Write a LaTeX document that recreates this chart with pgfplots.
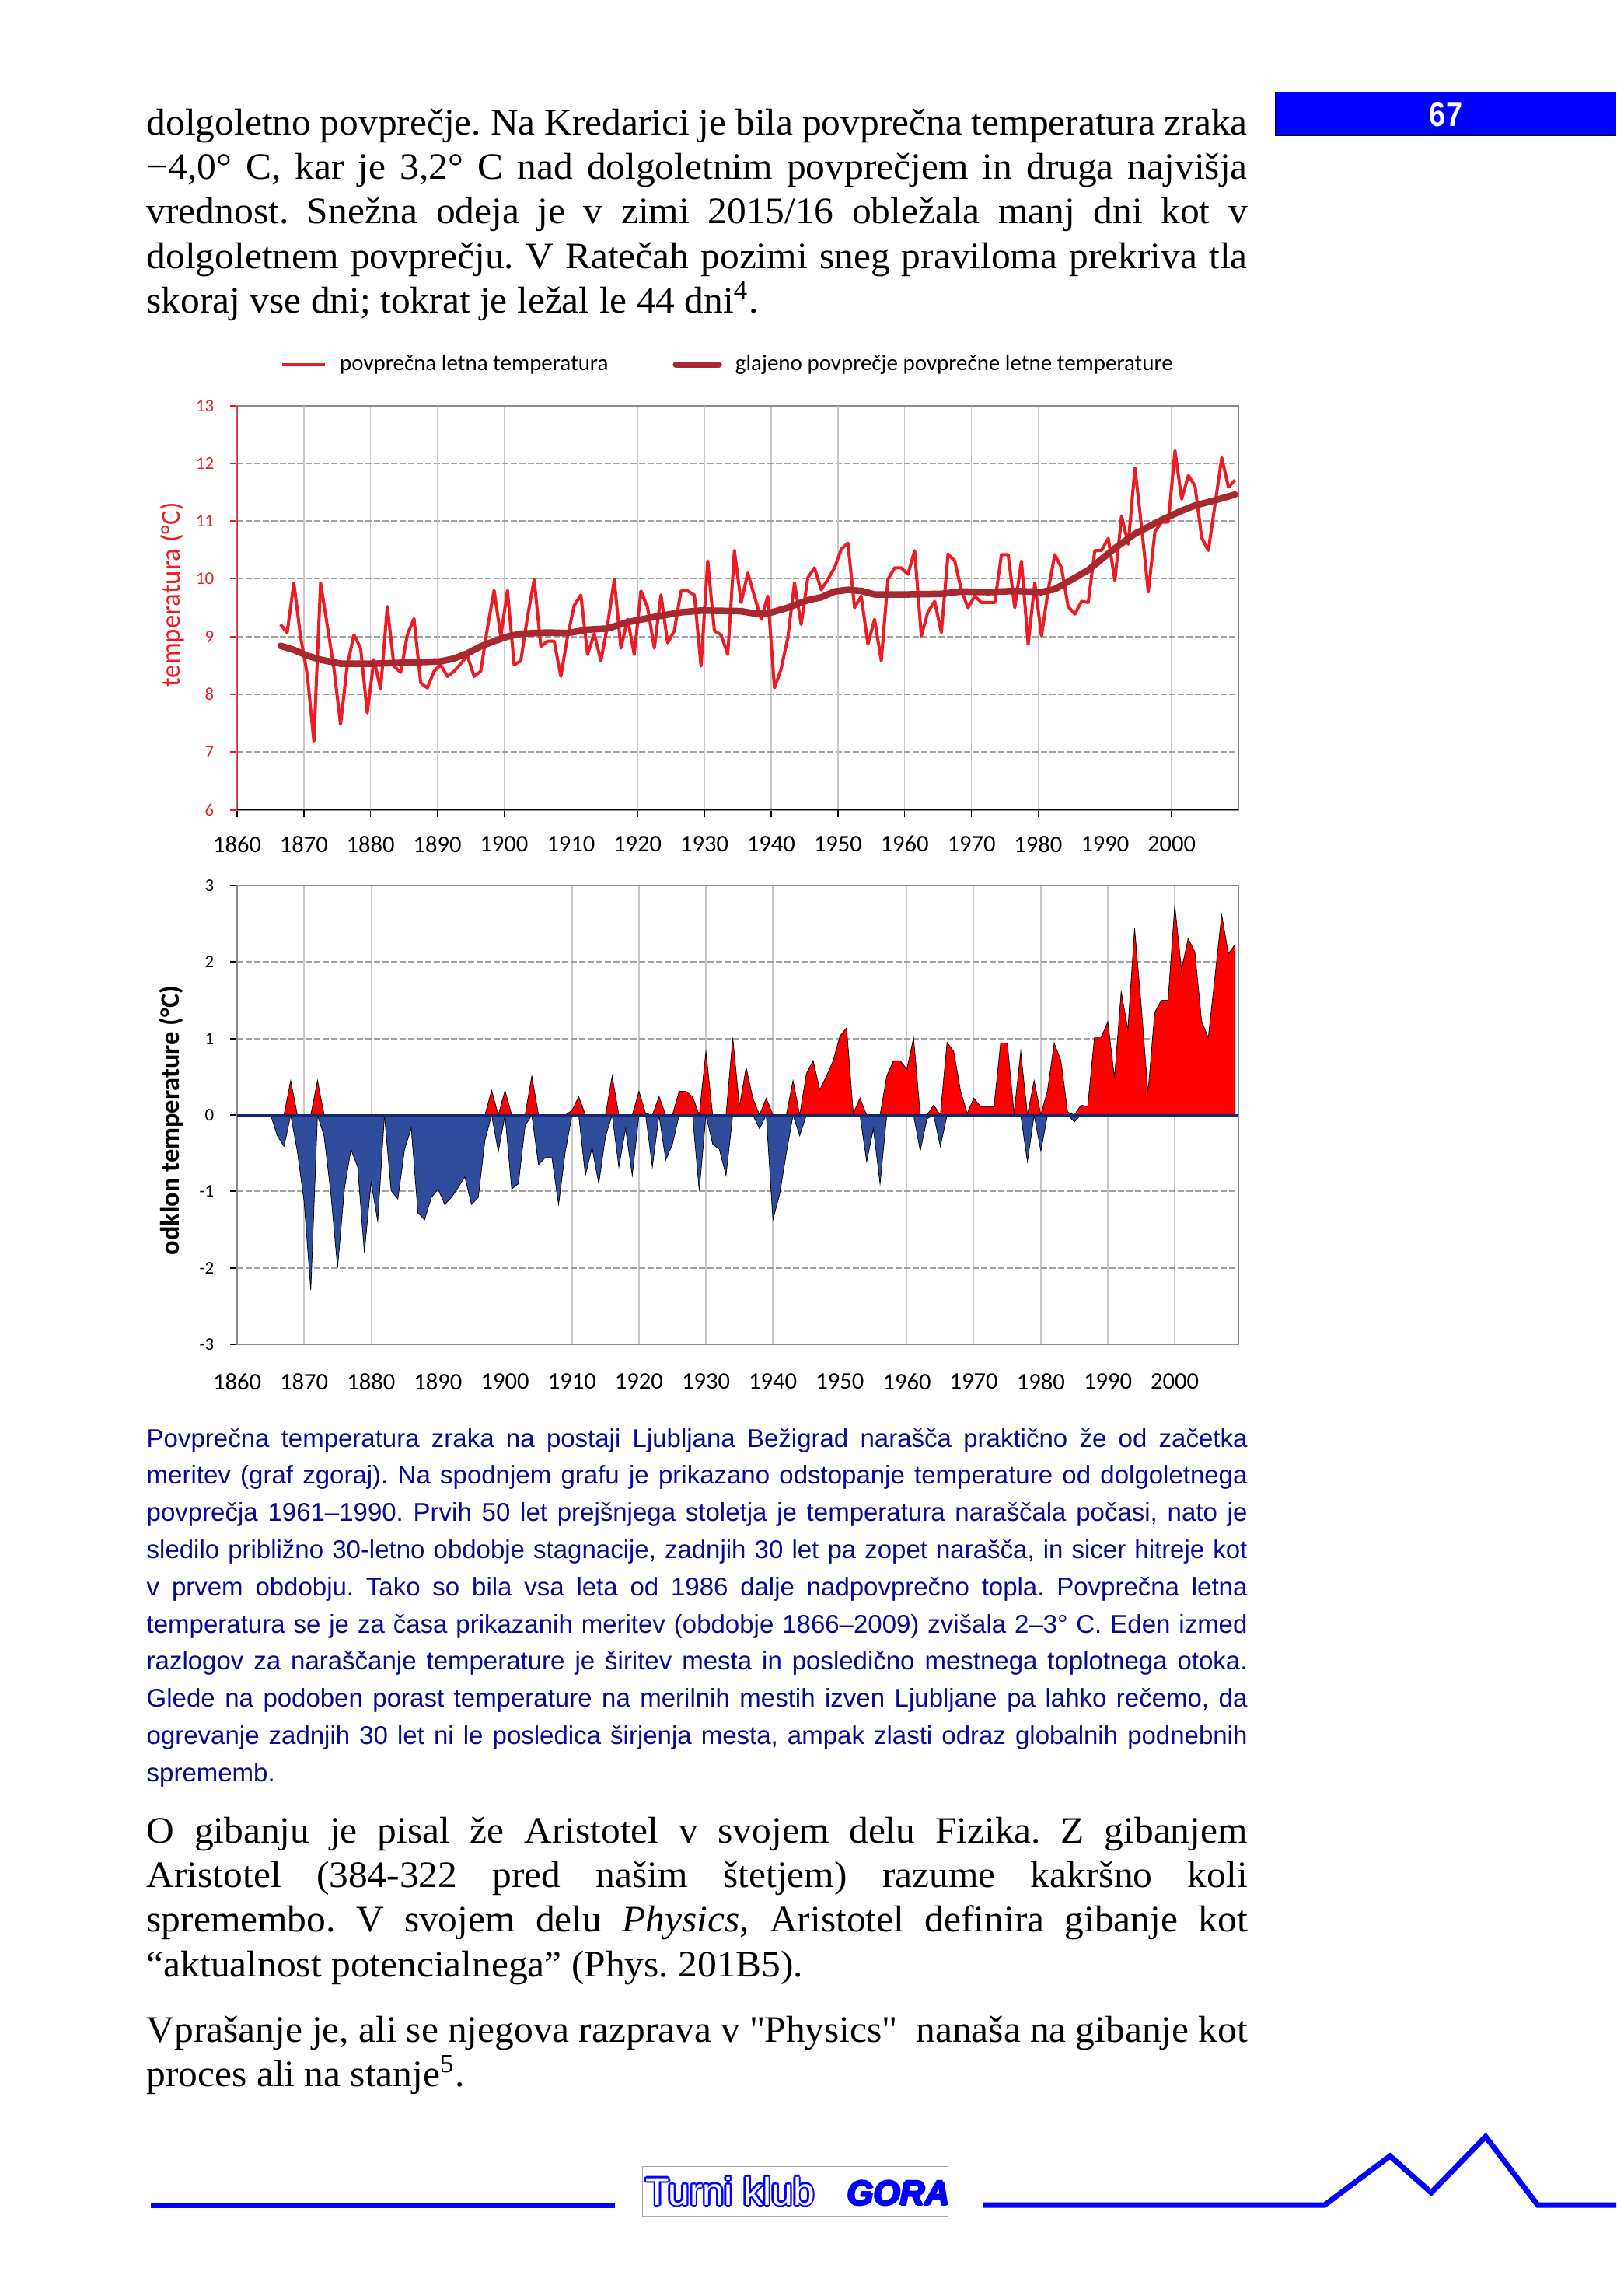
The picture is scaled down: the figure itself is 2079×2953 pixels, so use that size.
\documentclass[border=0pt]{standalone}
\usepackage{fontspec}
\usepackage{pgfplots}
\pgfplotsset{compat=1.18}
\usepackage{pgfplotstable}
\setmainfont[FakeStretch=1.03]{Liberation Serif}
\newfontfamily\chartfont{Carlito}
\newfontfamily\capfont{Liberation Sans}
\newfontfamily\narrowfont[FakeStretch=0.85]{Liberation Sans}

\definecolor{tred}{RGB}{237,28,36}
\definecolor{sred}{RGB}{168,40,48}
\definecolor{bred}{RGB}{255,0,0}
\definecolor{bblue}{RGB}{48,76,156}
\definecolor{navyz}{RGB}{20,40,110}
\definecolor{capblue}{RGB}{10,10,140}
\definecolor{hdrblue}{RGB}{0,0,255}
\definecolor{gridv}{RGB}{200,200,200}
\definecolor{gridvd}{RGB}{140,140,140}
\definecolor{gridh}{RGB}{160,160,160}
\definecolor{frame}{RGB}{140,140,140}

\newcommand\bodyfs{\fontsize{13.66pt}{16.3pt}\selectfont}
\newcommand\capfs{\capfont\fontsize{9.39pt}{11pt}\selectfont}
\newcommand\bline[2]{\node[anchor=base west,inner sep=0pt,font=\bodyfs] at (188,#1) {\makebox[141.6mm][s]{#2}};}
\newcommand\blast[2]{\node[anchor=base west,inner sep=0pt,font=\bodyfs] at (188,#1) {#2};}
\newcommand\capline[2]{\node[anchor=base west,inner sep=0pt,font=\capfs,text=capblue] at (188,#1) {\makebox[141.6mm][s]{#2}};}
\newcommand\caplast[2]{\node[anchor=base west,inner sep=0pt,font=\capfs,text=capblue] at (188,#1) {#2};}

\pgfplotstableread{
year T
1866 9.21
1867 9.07
1868 9.93
1869 9.00
1870 8.35
1871 7.19
1872 9.93
1873 9.20
1874 8.45
1875 7.48
1876 8.50
1877 9.03
1878 8.80
1879 7.68
1880 8.60
1881 8.09
1882 9.52
1883 8.49
1884 8.38
1885 9.03
1886 9.31
1887 8.20
1888 8.11
1889 8.40
1890 8.51
1891 8.31
1892 8.40
1893 8.53
1894 8.67
1895 8.31
1896 8.40
1897 9.15
1898 9.80
1899 9.00
1900 9.80
1901 8.51
1902 8.58
1903 9.34
1904 9.99
1905 8.83
1906 8.92
1907 8.92
1908 8.31
1909 9.00
1910 9.54
1911 9.72
1912 8.69
1913 9.05
1914 8.58
1915 9.20
1916 9.99
1917 8.80
1918 9.30
1919 8.69
1920 9.79
1921 9.50
1922 8.80
1923 9.72
1924 8.89
1925 9.10
1926 9.79
1927 9.79
1928 9.72
1929 8.49
1930 10.31
1931 9.10
1932 9.03
1933 8.69
1934 10.49
1935 9.59
1936 10.10
1937 9.70
1938 9.30
1939 9.70
1940 8.11
1941 8.44
1942 8.98
1943 9.93
1944 9.21
1945 10.02
1946 10.19
1947 9.81
1948 9.99
1949 10.19
1950 10.51
1951 10.62
1952 9.50
1953 9.70
1954 8.87
1955 9.30
1956 8.58
1957 9.99
1958 10.19
1959 10.19
1960 10.08
1961 10.49
1962 9.01
1963 9.43
1964 9.61
1965 9.07
1966 10.43
1967 10.31
1968 9.80
1969 9.50
1970 9.70
1971 9.59
1972 9.59
1973 9.59
1974 10.42
1975 10.42
1976 9.50
1977 10.31
1978 8.87
1979 9.93
1980 9.01
1981 9.80
1982 10.42
1983 10.19
1984 9.52
1985 9.39
1986 9.61
1987 9.59
1988 10.49
1989 10.49
1990 10.70
1991 9.97
1992 11.09
1993 10.60
1994 11.92
1995 10.90
1996 9.77
1997 10.82
1998 10.98
1999 10.98
2000 12.22
2001 11.38
2002 11.79
2003 11.61
2004 10.71
2005 10.49
2006 11.29
2007 12.10
2008 11.59
2009 11.71
}\tdata

\pgfplotstableread{
year S
1866 8.84
1868 8.77
1870 8.67
1872 8.60
1875 8.53
1880 8.53
1885 8.55
1890 8.57
1892 8.62
1894 8.71
1896 8.83
1898 8.92
1900 9.00
1902 9.05
1906 9.07
1909 9.06
1912 9.12
1915 9.14
1918 9.25
1922 9.34
1926 9.42
1929 9.45
1935 9.44
1937 9.40
1939 9.40
1942 9.50
1945 9.63
1947 9.68
1949 9.78
1951 9.81
1953 9.79
1955 9.73
1960 9.73
1965 9.74
1968 9.78
1972 9.77
1976 9.79
1980 9.77
1982 9.82
1984 9.95
1987 10.15
1991 10.53
1994 10.78
1998 11.02
2001 11.18
2003 11.27
2006 11.36
2009 11.46
}\sdata

\pgfplotstableread{
year pos neg
1860 0 0
1861 0 0
1862 0 0
1863 0 0
1864 0 0
1865 0 0
1866 0 -0.27
1867 0 -0.41
1868 0.45 0
1869 0 -0.48
1870 0 -1.13
1871 0 -2.29
1872 0.45 0
1873 0 -0.28
1874 0 -1.03
1875 0 -2.00
1876 0 -0.98
1877 0 -0.45
1878 0 -0.68
1879 0 -1.80
1880 0 -0.88
1881 0 -1.39
1882 0 0
1883 0 -0.99
1884 0 -1.10
1885 0 -0.45
1886 0 -0.17
1887 0 -1.28
1888 0 -1.37
1889 0 -1.08
1890 0 -0.97
1891 0 -1.17
1892 0 -1.08
1893 0 -0.95
1894 0 -0.81
1895 0 -1.17
1896 0 -1.08
1897 0 -0.33
1898 0.32 0
1899 0 -0.48
1900 0.32 0
1901 0 -0.97
1902 0 -0.90
1903 0 -0.14
1904 0.51 0
1905 0 -0.65
1906 0 -0.56
1907 0 -0.56
1908 0 -1.17
1909 0 -0.48
1910 0.06 0
1911 0.24 0
1912 0 -0.79
1913 0 -0.43
1914 0 -0.90
1915 0 -0.28
1916 0.51 0
1917 0 -0.68
1918 0 -0.18
1919 0 -0.79
1920 0.31 0
1921 0.02 0
1922 0 -0.68
1923 0.24 0
1924 0 -0.59
1925 0 -0.38
1926 0.31 0
1927 0.31 0
1928 0.24 0
1929 0 -0.99
1930 0.83 0
1931 0 -0.38
1932 0 -0.45
1933 0 -0.79
1934 1.01 0
1935 0.11 0
1936 0.62 0
1937 0.22 0
1938 0 -0.18
1939 0.22 0
1940 0 -1.37
1941 0 -1.04
1942 0 -0.50
1943 0.45 0
1944 0 -0.27
1945 0.54 0
1946 0.71 0
1947 0.33 0
1948 0.51 0
1949 0.71 0
1950 1.03 0
1951 1.14 0
1952 0.02 0
1953 0.22 0
1954 0 -0.61
1955 0 -0.18
1956 0 -0.90
1957 0.51 0
1958 0.71 0
1959 0.71 0
1960 0.60 0
1961 1.01 0
1962 0 -0.47
1963 0 -0.05
1964 0.13 0
1965 0 -0.41
1966 0.95 0
1967 0.83 0
1968 0.32 0
1969 0.02 0
1970 0.22 0
1971 0.11 0
1972 0.11 0
1973 0.11 0
1974 0.94 0
1975 0.94 0
1976 0.02 0
1977 0.83 0
1978 0 -0.61
1979 0.45 0
1980 0 -0.47
1981 0.32 0
1982 0.94 0
1983 0.71 0
1984 0.04 0
1985 0 -0.09
1986 0.13 0
1987 0.11 0
1988 1.01 0
1989 1.01 0
1990 1.22 0
1991 0.49 0
1992 1.61 0
1993 1.12 0
1994 2.44 0
1995 1.42 0
1996 0.29 0
1997 1.34 0
1998 1.50 0
1999 1.50 0
2000 2.74 0
2001 1.90 0
2002 2.31 0
2003 2.13 0
2004 1.23 0
2005 1.01 0
2006 1.81 0
2007 2.62 0
2008 2.11 0
2009 2.23 0
}\adata

\begin{document}
\frenchspacing
\begin{tikzpicture}[x=0.1mm,y=-0.1mm]
\path[use as bounding box, fill=white] (0,0) rectangle (2079,2953);

% header
\fill[hdrblue] (1641,118) rectangle (2079,174);
\draw[black, line width=0.12mm] (1641,118) -- (1641,174) -- (2079,174);
\node[text=white, inner sep=0pt, font=\narrowfont\bfseries\fontsize{12.7pt}{14pt}\selectfont] at (1860,147) {67};

% top text
\bline{173}{dolgoletno povprečje. Na Kredarici je bila povprečna temperatura zraka}
\bline{230.4}{−4,0° C, kar je 3,2° C nad dolgoletnim povprečjem in druga najvišja}
\bline{287.8}{vrednost. Snežna odeja je v zimi 2015/16 obležala manj dni kot v}
\bline{345.2}{dolgoletnem povprečju. V Ratečah pozimi sneg praviloma prekriva tla}
\blast{402.6}{skoraj vse dni; tokrat je ležal le 44 dni\textsuperscript{4}.}

% top chart
\begin{axis}[
  at={(30.5mm,-104.15mm)}, anchor=south west,
  scale only axis, width=128.8mm, height=51.98mm,
  xmin=1859.5, xmax=2009.5, ymin=6, ymax=13,
  xtick={1859.5,1869.5,1879.5,1889.5,1899.5,1909.5,1919.5,1929.5,1939.5,1949.5,1959.5,1969.5,1979.5,1989.5,1999.5},
  xticklabels={1860,1870,1880,1890,1900,1910,1920,1930,1940,1950,1960,1970,1980,1990,2000},
  ytick={6,7,8,9,10,11,12,13},
  /pgf/number format/assume math mode=true,
  grid=major,
  x grid style={gridv, line width=0.15mm},
  y grid style={gridh, line width=0.2mm, dash pattern=on 0.8mm off 0.3mm},
  extra x ticks={1869.5,1889.5,1909.5,1929.5,1949.5,1969.5,1989.5},
  extra x tick labels={},
  extra x tick style={grid=major, major grid style={gridvd, line width=0.12mm}},
  axis line style={frame, line width=0.2mm},
  tick align=outside, major tick length=0.9mm,
  xtick pos=left, ytick pos=left,
  xtick style={black, line width=0.15mm},
  ytick style={tred, line width=0.2mm},
  xticklabel style={font=\chartfont\fontsize{8.7pt}{10pt}\selectfont, inner sep=0pt, yshift=-2.4mm},
  yticklabel style={font=\chartfont\fontsize{6.5pt}{8pt}\selectfont, text=tred, inner sep=0pt, xshift=-2.0mm},
  ylabel={temperatura (°C)},
  ylabel style={at={(axis description cs:-0.0644,0.532)}, anchor=center, font=\chartfont\fontsize{9.9pt}{11pt}\selectfont, text=tred},
  legend style={draw=none, fill=none, at={(axis description cs:0.043,1.101)}, anchor=west,
    legend columns=2, font=\chartfont\fontsize{8.25pt}{9pt}\selectfont,
    /tikz/every even column/.append style={column sep=7.6mm}, inner sep=0pt},
  legend cell align=left,
  legend image code/.code={\draw[#1] (0mm,0mm) -- (5.5mm,0mm); \path (6.5mm,0mm);},
]
\addplot[tred, line width=0.4mm, line join=round] table[x=year,y=T]{\tdata};
\addlegendentry{povprečna letna temperatura}
\addplot[sred, line width=0.85mm, line join=round, line cap=round] table[x=year,y=S]{\sdata};
\addlegendentry{glajeno povprečje povprečne letne temperature}
\draw[tred, line width=0.2mm] (rel axis cs:0,0) -- (rel axis cs:0,1);
\draw[black, line width=0.2mm] (rel axis cs:0,0) -- (rel axis cs:1,0);
\end{axis}

% bottom chart
\begin{axis}[
  at={(30.5mm,-172.9mm)}, anchor=south west,
  scale only axis, width=128.8mm, height=59mm,
  xmin=1860, xmax=2009.5, ymin=-3, ymax=3,
  xtick={1860,1870,1880,1890,1900,1910,1920,1930,1940,1950,1960,1970,1980,1990,2000},
  xticklabels={1860,1870,1880,1890,1900,1910,1920,1930,1940,1950,1960,1970,1980,1990,2000},
  ytick={-3,-2,-1,0,1,2,3},
  yticklabels={-3,-2,-1,0,1,2,3},
  grid=major,
  x grid style={gridv, line width=0.15mm},
  y grid style={gridh, line width=0.2mm, dash pattern=on 0.8mm off 0.3mm},
  axis line style={frame, line width=0.2mm},
  tick align=outside, major tick length=0.9mm,
  xtick pos=left, ytick pos=left,
  xtick style={draw=none},
  ytick style={black, line width=0.2mm},
  xticklabel style={font=\chartfont\fontsize{8.7pt}{10pt}\selectfont, inner sep=0pt, yshift=-2.8mm},
  yticklabel style={font=\chartfont\fontsize{6.5pt}{8pt}\selectfont, inner sep=0pt, xshift=-2.0mm},
  ylabel={odklon temperature (°C)},
  ylabel style={at={(axis description cs:-0.066,0.488)}, anchor=center, font=\chartfont\bfseries\fontsize{9.8pt}{11pt}\selectfont},
]
\addplot[fill=bblue, draw=black, line width=0.08mm] table[x=year,y=neg]{\adata} \closedcycle;
\addplot[fill=bred, draw=black, line width=0.08mm] table[x=year,y=pos]{\adata} \closedcycle;
\addplot[navyz, line width=0.3mm] coordinates {(1860,0) (2009.5,0)};
\end{axis}

% caption
\capline{1861}{Povprečna temperatura zraka na postaji Ljubljana Bežigrad narašča praktično že od začetka}
\capline{1908.8}{meritev (graf zgoraj). Na spodnjem grafu je prikazano odstopanje temperature od dolgoletnega}
\capline{1956.6}{povprečja 1961–1990. Prvih 50 let prejšnjega stoletja je temperatura naraščala počasi, nato je}
\capline{2004.4}{sledilo približno 30-letno obdobje stagnacije, zadnjih 30 let pa zopet narašča, in sicer hitreje kot}
\capline{2052.2}{v prvem obdobju. Tako so bila vsa leta od 1986 dalje nadpovprečno topla. Povprečna letna}
\capline{2100}{temperatura se je za časa prikazanih meritev (obdobje 1866–2009) zvišala 2–3° C. Eden izmed}
\capline{2147.8}{razlogov za naraščanje temperature je širitev mesta in posledično mestnega toplotnega otoka.}
\capline{2195.6}{Glede na podoben porast temperature na merilnih mestih izven Ljubljane pa lahko rečemo, da}
\capline{2243.4}{ogrevanje zadnjih 30 let ni le posledica širjenja mesta, ampak zlasti odraz globalnih podnebnih}
\caplast{2291.2}{sprememb.}

% bottom text
\bline{2370}{O gibanju je pisal že Aristotel v svojem delu Fizika. Z gibanjem}
\bline{2427.4}{Aristotel (384-322 pred našim štetjem) razume kakršno koli}
\bline{2484.8}{spremembo. V svojem delu \textit{Physics}, Aristotel definira gibanje kot}
\blast{2542.2}{“aktualnost potencialnega” (Phys. 201B5).}
\bline{2626}{Vprašanje je, ali se njegova razprava v \textquotedbl Physics\textquotedbl\ \ nanaša na gibanje kot}
\blast{2683.4}{proces ali na stanje\textsuperscript{5}.}

% footer
\draw[hdrblue, line width=0.7mm] (194,2836) -- (791,2836);
\draw[hdrblue, line width=0.7mm, line join=miter] (1265,2836) -- (1704,2836) -- (1788,2773) -- (1841,2820) -- (1911,2748) -- (1978,2836) -- (2079,2836);
\draw[gray!70, line width=0.1mm] (826,2786) rectangle (1219,2850);
\foreach \dx/\dy in {-2.5/0,2.5/0,0/-2.5,0/2.5,-1.8/-1.8,1.8/1.8,-1.8/1.8,1.8/-1.8}
  \node[anchor=base west, inner sep=0pt, text=hdrblue, font=\capfont\fontsize{14.2pt}{16pt}\selectfont] at (830+\dx,2836+\dy) {Turni klub};
\node[anchor=base west, inner sep=0pt, text=white, font=\capfont\fontsize{14.2pt}{16pt}\selectfont] at (830,2836) {Turni klub};
\foreach \dx/\dy in {-1.5/0,1.5/0,0/-1.5,0/1.5,0/0}
  \node[anchor=base west, inner sep=0pt, text=hdrblue, font=\capfont\bfseries\itshape\fontsize{12.5pt}{14pt}\selectfont] at (1089+\dx,2836+\dy) {GORA};
\end{tikzpicture}
\end{document}
